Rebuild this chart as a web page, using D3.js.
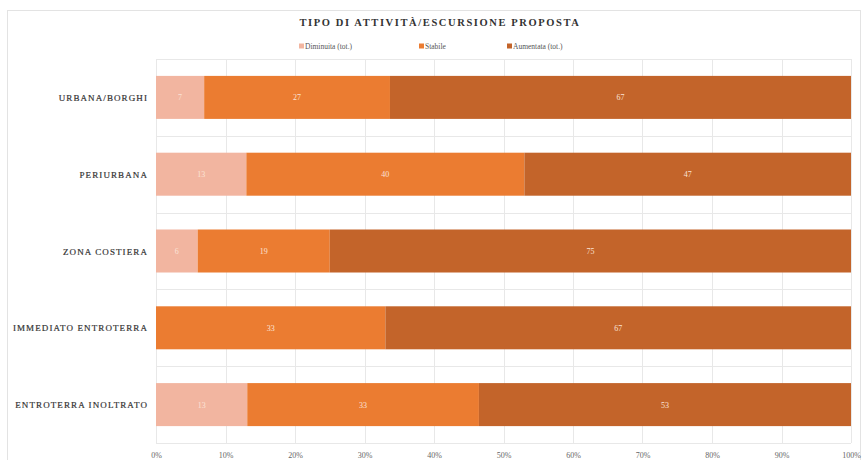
<!DOCTYPE html>
<html>
<head>
<meta charset="utf-8">
<script src="https://cdn.jsdelivr.net/npm/d3@7"></script>
<style>
  body { margin: 0; background: #fff; }
  text { font-family: "Liberation Serif", "DejaVu Serif", serif; }
</style>
</head>
<body>
<svg id="chart" width="863" height="460"></svg>
<script>
// data
var categories = ["URBANA/BORGHI", "PERIURBANA", "ZONA COSTIERA", "IMMEDIATO ENTROTERRA", "ENTROTERRA INOLTRATO"];
var seriesNames = ["Diminuita (tot.)", "Stabile", "Aumentata (tot.)"];
var diminuita = [7, 13, 6, 0, 13];
var stabile = [27, 40, 19, 33, 33];
var aumentata = [67, 47, 75, 67, 53];
var xTicks = [0, 10, 20, 30, 40, 50, 60, 70, 80, 90, 100];
var colors = ["#f2b5a0", "#eb7c31", "#c3642a"];

var svg = d3.select("#chart");
var plotLeft = 156, plotRight = 851, plotTop = 59, plotBottom = 443;

// outer frame
svg.append("rect")
    .attr("x", 7.5).attr("y", 10.5)
    .attr("width", 853).attr("height", 460)
    .attr("fill", "#fff")
    .attr("stroke", "#e3e3e3");

svg.append("text")
    .attr("x", 440).attr("y", 26)
    .attr("text-anchor", "middle")
    .attr("font-size", 10.5)
    .attr("font-weight", "bold")
    .attr("letter-spacing", 1.6)
    .attr("fill", "#333")
    .text("TIPO DI ATTIVITÀ/ESCURSIONE PROPOSTA");

// legend
var legendX = [299, 419, 507];
var legend = svg.append("g");
seriesNames.forEach(function(name, i) {
    legend.append("rect")
        .attr("x", legendX[i]).attr("y", 43.5)
        .attr("width", 5).attr("height", 5)
        .attr("fill", colors[i]);
    legend.append("text")
        .attr("x", legendX[i] + 6).attr("y", 49)
        .attr("font-size", 7.5)
        .attr("fill", "#555")
        .text(name);
});

// 100% stacked: x in share of total
var x = d3.scaleLinear().domain([0, 1]).range([plotLeft, plotRight]);
var y = d3.scaleBand().domain(categories).range([plotTop, plotBottom])
    .paddingInner(0.44).paddingOuter(0.22);

// gridlines
var grid = svg.append("g").attr("stroke", "#e8e8e8").attr("stroke-width", 1);
xTicks.forEach(function(t) {
    grid.append("line")
        .attr("x1", Math.round(x(t / 100)) + 0.5).attr("x2", Math.round(x(t / 100)) + 0.5)
        .attr("y1", plotTop).attr("y2", plotBottom);
});
d3.range(categories.length + 1).forEach(function(k) {
    var yy = Math.round(plotTop + k * (plotBottom - plotTop) / categories.length) + 0.5;
    grid.append("line")
        .attr("x1", plotLeft).attr("x2", plotRight)
        .attr("y1", yy).attr("y2", yy);
});

// stacked bars
var rows = categories.map(function(c, i) {
    return {cat: c, d: diminuita[i], s: stabile[i], a: aumentata[i]};
});
var keys = ["d", "s", "a"];
var layers = d3.stack().keys(keys).offset(d3.stackOffsetExpand)(rows);

layers.forEach(function(layer, li) {
    var g = svg.append("g");
    layer.forEach(function(seg) {
        var val = seg.data[keys[li]];
        if (val <= 0) return;
        var x0 = x(seg[0]), x1 = x(seg[1]);
        g.append("rect")
            .attr("x", x0).attr("y", y(seg.data.cat))
            .attr("width", x1 - x0).attr("height", y.bandwidth())
            .attr("fill", colors[li]);
        g.append("text")
            .attr("x", (x0 + x1) / 2)
            .attr("y", y(seg.data.cat) + y.bandwidth() / 2 + 3)
            .attr("text-anchor", "middle")
            .attr("font-size", 8)
            .attr("fill", "#fbe3d6")
            .text(val);
    });
});

// category labels
var yAxis = svg.append("g");
categories.forEach(function(c) {
    yAxis.append("text")
        .attr("x", 148)
        .attr("y", y(c) + y.bandwidth() / 2 + 3.5)
        .attr("text-anchor", "end")
        .attr("font-size", 9)
        .attr("letter-spacing", 1.1)
        .attr("fill", "#333")
        .attr("stroke", "#333")
        .attr("stroke-width", 0.2)
        .text(c);
});

// x axis
var xAxis = svg.append("g")
    .attr("transform", "translate(0," + plotBottom + ")")
    .call(d3.axisBottom(x).tickValues(xTicks.map(function(t) { return t / 100; }))
        .tickSize(0).tickPadding(9)
        .tickFormat(function(d) { return Math.round(d * 100) + "%"; }));
xAxis.select(".domain").remove();
xAxis.selectAll("text")
    .attr("font-family", "Liberation Serif, serif")
    .attr("font-size", 8)
    .attr("fill", "#666");
</script>
</body>
</html>
